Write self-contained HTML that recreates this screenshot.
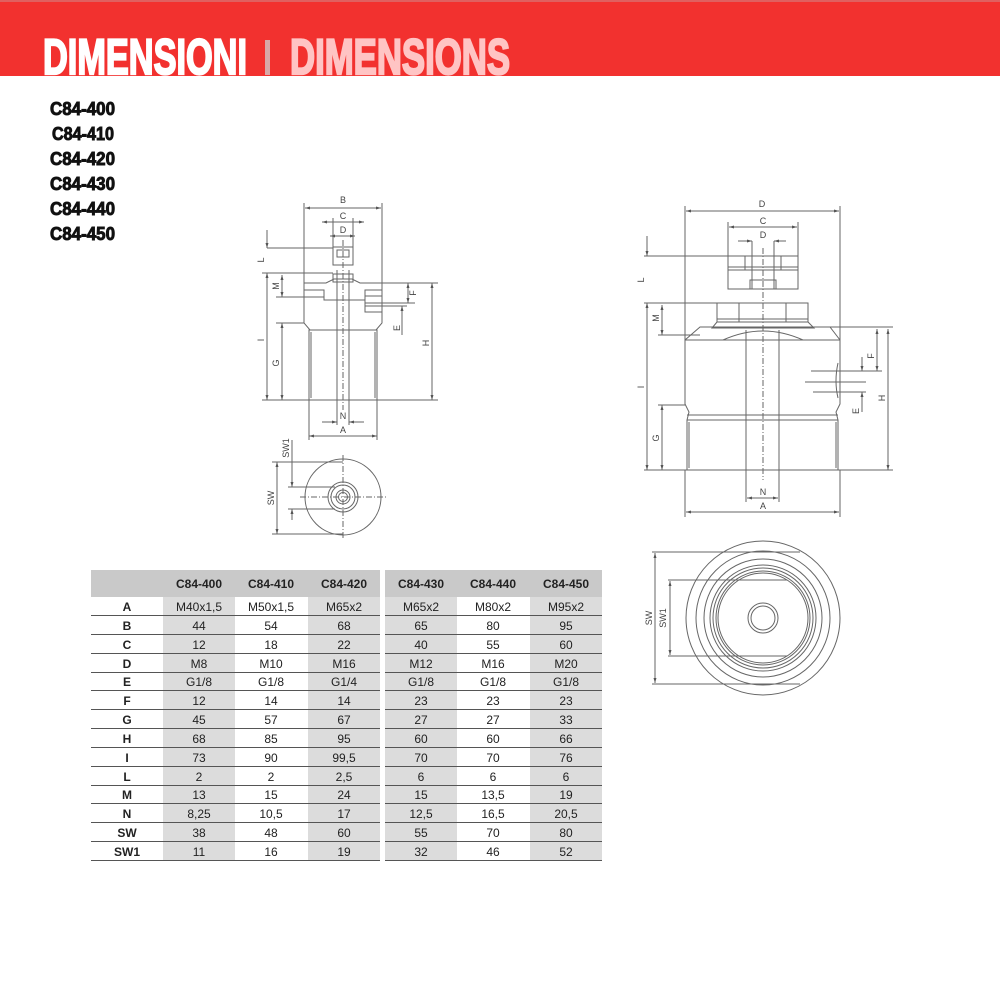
<!DOCTYPE html>
<html><head><meta charset="utf-8"><style>
html,body{margin:0;padding:0;background:#fff;width:1000px;height:1000px;overflow:hidden;font-family:"Liberation Sans",sans-serif}
svg{position:absolute;left:0;top:0}
</style></head><body>
<svg width="1000" height="1000" viewBox="0 0 1000 1000" xmlns="http://www.w3.org/2000/svg">
<defs>
<marker id="a" viewBox="0 0 10 10" refX="10" refY="5" markerWidth="5" markerHeight="5" orient="auto-start-reverse"><path d="M0,2 L10,5 L0,8z" fill="#555"/></marker>
</defs>
<!-- header -->
<rect x="0" y="0" width="1000" height="76" fill="#f2312f"/>
<rect x="0" y="0" width="1000" height="2" fill="#e06060"/>
<text x="43" y="74" font-family="Liberation Sans Narrow, Liberation Sans" font-weight="bold" font-size="50" fill="#fff" stroke="#fff" stroke-width="2.2" textLength="204" lengthAdjust="spacingAndGlyphs">DIMENSIONI</text>
<rect x="265" y="40" width="5" height="35" fill="#d8a8a8"/>
<text x="290" y="74" font-family="Liberation Sans Narrow, Liberation Sans" font-weight="bold" font-size="50" fill="#ffc4c4" stroke="#ffc4c4" stroke-width="2.2" textLength="220" lengthAdjust="spacingAndGlyphs">DIMENSIONS</text>
<!-- model list -->
<g font-family="Liberation Sans Narrow, Liberation Sans" font-weight="bold" font-size="18" fill="#111" stroke="#111" stroke-width="0.9">
<text x="50" y="115" textLength="65" lengthAdjust="spacingAndGlyphs">C84-400</text>
<text x="52" y="140" textLength="62" lengthAdjust="spacingAndGlyphs">C84-410</text>
<text x="50" y="165" textLength="65" lengthAdjust="spacingAndGlyphs">C84-420</text>
<text x="50" y="190" textLength="65" lengthAdjust="spacingAndGlyphs">C84-430</text>
<text x="50" y="215" textLength="65" lengthAdjust="spacingAndGlyphs">C84-440</text>
<text x="50" y="240" textLength="65" lengthAdjust="spacingAndGlyphs">C84-450</text>
</g>

<!-- LEFT DRAWING -->
<g stroke="#666" stroke-width="1" fill="none">
<line x1="304" y1="203" x2="304" y2="323"/><line x1="382" y1="203" x2="382" y2="283"/>
<line x1="305" y1="208" x2="381" y2="208" marker-start="url(#a)" marker-end="url(#a)"/>
<line x1="322" y1="222" x2="364" y2="222" marker-start="url(#a)" marker-end="url(#a)"/>
<line x1="330" y1="236" x2="355" y2="236" marker-start="url(#a)" marker-end="url(#a)"/>
<line x1="333" y1="218" x2="333" y2="265"/><line x1="353" y1="218" x2="353" y2="265"/>
<rect x="333" y="247" width="20" height="18"/>
<rect x="337" y="250" width="12" height="7"/>
<line x1="267" y1="248" x2="333" y2="248"/>
<rect x="333" y="274" width="20" height="8"/>
<path d="M304,283 L326,283 L334,279 L352,279 L360,283 L382,283 L382,323 L376,330 L310,330 L304,323 Z"/>
<path d="M304,290 L324,290 L324,300 L365,300 L365,290 L382,290"/>
<rect x="365" y="296" width="17" height="16"/>
<rect x="309" y="330" width="68" height="70"/>
<line x1="311" y1="332" x2="311" y2="398"/><line x1="375" y1="332" x2="375" y2="398"/>
<line x1="337" y1="270" x2="337" y2="425"/><line x1="349" y1="270" x2="349" y2="425"/>
<line x1="343" y1="240" x2="343" y2="410" stroke-dasharray="6,2,1,2"/>
<line x1="262" y1="273" x2="333" y2="273"/>
<line x1="276" y1="297" x2="324" y2="297"/>
<line x1="262" y1="400" x2="309" y2="400"/><line x1="276" y1="323" x2="304" y2="323"/>
<line x1="267" y1="230" x2="267" y2="248" marker-end="url(#a)"/>
<line x1="267" y1="273" x2="267" y2="400" marker-start="url(#a)" marker-end="url(#a)"/>
<line x1="282" y1="275" x2="282" y2="297" marker-start="url(#a)" marker-end="url(#a)"/>
<line x1="282" y1="323" x2="282" y2="400" marker-start="url(#a)" marker-end="url(#a)"/>
<line x1="382" y1="283" x2="438" y2="283"/><line x1="377" y1="400" x2="438" y2="400"/>
<line x1="365" y1="303" x2="415" y2="303"/><line x1="365" y1="306" x2="407" y2="306"/>
<line x1="408" y1="283" x2="408" y2="303" marker-start="url(#a)" marker-end="url(#a)"/>
<line x1="402" y1="306" x2="402" y2="335" marker-start="url(#a)"/>
<line x1="432" y1="283" x2="432" y2="400" marker-start="url(#a)" marker-end="url(#a)"/>
<line x1="309" y1="400" x2="309" y2="440"/><line x1="377" y1="400" x2="377" y2="440"/>
<line x1="322" y1="422" x2="337" y2="422" marker-end="url(#a)"/><line x1="364" y1="422" x2="349" y2="422" marker-end="url(#a)"/>
<line x1="309" y1="436" x2="377" y2="436" marker-start="url(#a)" marker-end="url(#a)"/>
<!-- bottom view -->
<circle cx="343" cy="497" r="38"/>
<circle cx="343" cy="497" r="15"/><circle cx="343" cy="497" r="12"/><circle cx="343" cy="497" r="7"/><circle cx="343" cy="497" r="4.5"/>
<line x1="343" y1="455" x2="343" y2="540" stroke-dasharray="6,2,1,2"/>
<line x1="300" y1="497" x2="388" y2="497" stroke-dasharray="6,2,1,2"/>
<line x1="272" y1="462" x2="343" y2="462"/><line x1="272" y1="534" x2="343" y2="534"/>
<line x1="288" y1="487" x2="335" y2="487"/><line x1="288" y1="509" x2="335" y2="509"/>
<line x1="277" y1="462" x2="277" y2="534" marker-start="url(#a)" marker-end="url(#a)"/>
<line x1="292" y1="440" x2="292" y2="487" marker-end="url(#a)"/>
<line x1="292" y1="520" x2="292" y2="509" marker-end="url(#a)"/>
</g>
<g font-size="9" fill="#444" text-anchor="middle">
<text x="343" y="203">B</text><text x="343" y="219">C</text><text x="343" y="233">D</text>
<text x="343" y="419">N</text><text x="343" y="433">A</text>
<text transform="translate(264,260) rotate(-90)">L</text>
<text transform="translate(279,286) rotate(-90)">M</text>
<text transform="translate(264,340) rotate(-90)">I</text>
<text transform="translate(279,363) rotate(-90)">G</text>
<text transform="translate(416,293) rotate(-90)">F</text>
<text transform="translate(400,328) rotate(-90)">E</text>
<text transform="translate(429,343) rotate(-90)">H</text>
<text transform="translate(274,498) rotate(-90)">SW</text>
<text transform="translate(289,448) rotate(-90)">SW1</text>
</g>

<!-- RIGHT DRAWING -->
<g stroke="#666" stroke-width="1" fill="none">
<line x1="685" y1="206" x2="685" y2="340"/><line x1="840" y1="206" x2="840" y2="340"/>
<line x1="686" y1="211" x2="839" y2="211" marker-start="url(#a)" marker-end="url(#a)"/>
<line x1="728" y1="222" x2="728" y2="256"/><line x1="798" y1="222" x2="798" y2="256"/>
<line x1="729" y1="227" x2="797" y2="227" marker-start="url(#a)" marker-end="url(#a)"/>
<line x1="738" y1="241" x2="752" y2="241" marker-end="url(#a)"/><line x1="786" y1="241" x2="774" y2="241" marker-end="url(#a)"/>
<rect x="728" y="256" width="70" height="33"/>
<line x1="728" y1="267" x2="798" y2="267"/><line x1="728" y1="270" x2="798" y2="270"/>
<line x1="745" y1="256" x2="745" y2="270"/><line x1="781" y1="256" x2="781" y2="270"/>
<line x1="752" y1="241" x2="752" y2="289"/><line x1="774" y1="241" x2="774" y2="289"/>
<path d="M750,289 L750,280 L776,280 L776,289"/>
<line x1="644" y1="256" x2="728" y2="256"/>
<path d="M717,303 L808,303 L808,322 L717,322 Z"/>
<line x1="739" y1="303" x2="739" y2="322"/><line x1="786" y1="303" x2="786" y2="322"/>
<line x1="717" y1="319" x2="808" y2="319"/>
<path d="M717,322 L712,328 L814,328 L808,322"/>
<path d="M700,327 L830,327 L840,340 L840,404 L836,412 L838,420 L838,470 L687,470 L687,420 L689,412 L685,404 L685,340 Z"/>
<line x1="685" y1="340" x2="840" y2="340"/>
<path d="M723,340 Q763,322 803,340"/>
<line x1="687" y1="415" x2="838" y2="415"/><line x1="687" y1="420" x2="838" y2="420"/>
<line x1="689" y1="422" x2="689" y2="468"/><line x1="836" y1="422" x2="836" y2="468"/>
<line x1="746" y1="330" x2="746" y2="502"/><line x1="779" y1="330" x2="779" y2="502"/>
<line x1="763" y1="248" x2="763" y2="480" stroke-dasharray="6,2,1,2"/>
<line x1="644" y1="303" x2="717" y2="303"/><line x1="658" y1="335" x2="700" y2="335"/>
<line x1="644" y1="470" x2="687" y2="470"/><line x1="658" y1="405" x2="685" y2="405"/>
<line x1="647" y1="236" x2="647" y2="256" marker-end="url(#a)"/>
<line x1="647" y1="303" x2="647" y2="470" marker-start="url(#a)" marker-end="url(#a)"/>
<line x1="662" y1="305" x2="662" y2="335" marker-start="url(#a)" marker-end="url(#a)"/>
<line x1="662" y1="405" x2="662" y2="470" marker-start="url(#a)" marker-end="url(#a)"/>
<line x1="830" y1="327" x2="893" y2="327"/><line x1="838" y1="470" x2="893" y2="470"/>
<line x1="811" y1="371" x2="882" y2="371"/><line x1="805" y1="382" x2="866" y2="382"/><line x1="813" y1="392" x2="866" y2="392"/>
<path d="M838,363 Q834,381 838,398"/>
<line x1="877" y1="329" x2="877" y2="371" marker-start="url(#a)" marker-end="url(#a)"/>
<line x1="862" y1="357" x2="862" y2="371" marker-end="url(#a)"/>
<line x1="862" y1="412" x2="862" y2="392" marker-end="url(#a)"/>
<line x1="888" y1="329" x2="888" y2="470" marker-start="url(#a)" marker-end="url(#a)"/>
<line x1="685" y1="470" x2="685" y2="517"/><line x1="840" y1="470" x2="840" y2="517"/>
<line x1="747" y1="498" x2="778" y2="498" marker-start="url(#a)" marker-end="url(#a)"/>
<line x1="686" y1="512" x2="839" y2="512" marker-start="url(#a)" marker-end="url(#a)"/>
<!-- bottom right view -->
<circle cx="763" cy="618" r="77"/>
<circle cx="763" cy="618" r="67"/><circle cx="763" cy="618" r="59"/>
<circle cx="763" cy="618" r="53"/><circle cx="763" cy="618" r="50"/><circle cx="763" cy="618" r="47"/><circle cx="763" cy="618" r="45"/>
<circle cx="763" cy="618" r="15"/><circle cx="763" cy="618" r="12"/>
<line x1="652" y1="552" x2="800" y2="552"/><line x1="652" y1="684" x2="800" y2="684"/>
<line x1="668" y1="580" x2="787" y2="580"/><line x1="668" y1="656" x2="787" y2="656"/>
<line x1="655" y1="553" x2="655" y2="683" marker-start="url(#a)" marker-end="url(#a)"/>
<line x1="670" y1="581" x2="670" y2="655" marker-start="url(#a)" marker-end="url(#a)"/>
</g>
<g font-size="9" fill="#444" text-anchor="middle">
<text x="762" y="207">D</text><text x="763" y="224">C</text><text x="763" y="238">D</text>
<text x="763" y="495">N</text><text x="763" y="509">A</text>
<text transform="translate(644,280) rotate(-90)">L</text>
<text transform="translate(659,318) rotate(-90)">M</text>
<text transform="translate(644,387) rotate(-90)">I</text>
<text transform="translate(659,438) rotate(-90)">G</text>
<text transform="translate(874,356) rotate(-90)">F</text>
<text transform="translate(859,411) rotate(-90)">E</text>
<text transform="translate(885,398) rotate(-90)">H</text>
<text transform="translate(652,618) rotate(-90)">SW</text>
<text transform="translate(666,618) rotate(-90)">SW1</text>
</g>

<!-- TABLE -->
<g>
<rect x="91" y="570" width="289" height="27" fill="#c9c9c9"/>
<rect x="385" y="570" width="217" height="27" fill="#c9c9c9"/>
<rect x="163" y="597" width="72" height="263" fill="#dcdcdc"/>
<rect x="308" y="597" width="72" height="263" fill="#dcdcdc"/>
<rect x="385" y="597" width="72" height="263" fill="#dcdcdc"/>
<rect x="530" y="597" width="72" height="263" fill="#dcdcdc"/>
<g stroke="#555" stroke-width="1">
<line x1="91" y1="615.5" x2="380" y2="615.5"/><line x1="385" y1="615.5" x2="602" y2="615.5"/>
<line x1="91" y1="634.5" x2="380" y2="634.5"/><line x1="385" y1="634.5" x2="602" y2="634.5"/>
<line x1="91" y1="653.5" x2="380" y2="653.5"/><line x1="385" y1="653.5" x2="602" y2="653.5"/>
<line x1="91" y1="672.5" x2="380" y2="672.5"/><line x1="385" y1="672.5" x2="602" y2="672.5"/>
<line x1="91" y1="690.5" x2="380" y2="690.5"/><line x1="385" y1="690.5" x2="602" y2="690.5"/>
<line x1="91" y1="709.5" x2="380" y2="709.5"/><line x1="385" y1="709.5" x2="602" y2="709.5"/>
<line x1="91" y1="728.5" x2="380" y2="728.5"/><line x1="385" y1="728.5" x2="602" y2="728.5"/>
<line x1="91" y1="747.5" x2="380" y2="747.5"/><line x1="385" y1="747.5" x2="602" y2="747.5"/>
<line x1="91" y1="766.5" x2="380" y2="766.5"/><line x1="385" y1="766.5" x2="602" y2="766.5"/>
<line x1="91" y1="785.5" x2="380" y2="785.5"/><line x1="385" y1="785.5" x2="602" y2="785.5"/>
<line x1="91" y1="803.5" x2="380" y2="803.5"/><line x1="385" y1="803.5" x2="602" y2="803.5"/>
<line x1="91" y1="822.5" x2="380" y2="822.5"/><line x1="385" y1="822.5" x2="602" y2="822.5"/>
<line x1="91" y1="841.5" x2="380" y2="841.5"/><line x1="385" y1="841.5" x2="602" y2="841.5"/>
<line x1="91" y1="860.5" x2="380" y2="860.5"/><line x1="385" y1="860.5" x2="602" y2="860.5"/>
</g>
<g font-family="Liberation Sans Narrow, Liberation Sans" font-size="12" fill="#222" text-anchor="middle">
<g font-weight="bold"><text x="199" y="588">C84-400</text><text x="271" y="588">C84-410</text><text x="344" y="588">C84-420</text><text x="421" y="588">C84-430</text><text x="493" y="588">C84-440</text><text x="566" y="588">C84-450</text>
<text x="127" y="611">A</text><text x="127" y="630">B</text><text x="127" y="649">C</text><text x="127" y="668">D</text><text x="127" y="686">E</text><text x="127" y="705">F</text><text x="127" y="724">G</text><text x="127" y="743">H</text><text x="127" y="762">I</text><text x="127" y="781">L</text><text x="127" y="799">M</text><text x="127" y="818">N</text><text x="127" y="837">SW</text><text x="127" y="856">SW1</text></g>
<text x="199" y="611">M40x1,5</text><text x="271" y="611">M50x1,5</text><text x="344" y="611">M65x2</text><text x="421" y="611">M65x2</text><text x="493" y="611">M80x2</text><text x="566" y="611">M95x2</text>
<text x="199" y="630">44</text><text x="271" y="630">54</text><text x="344" y="630">68</text><text x="421" y="630">65</text><text x="493" y="630">80</text><text x="566" y="630">95</text>
<text x="199" y="649">12</text><text x="271" y="649">18</text><text x="344" y="649">22</text><text x="421" y="649">40</text><text x="493" y="649">55</text><text x="566" y="649">60</text>
<text x="199" y="668">M8</text><text x="271" y="668">M10</text><text x="344" y="668">M16</text><text x="421" y="668">M12</text><text x="493" y="668">M16</text><text x="566" y="668">M20</text>
<text x="199" y="686">G1/8</text><text x="271" y="686">G1/8</text><text x="344" y="686">G1/4</text><text x="421" y="686">G1/8</text><text x="493" y="686">G1/8</text><text x="566" y="686">G1/8</text>
<text x="199" y="705">12</text><text x="271" y="705">14</text><text x="344" y="705">14</text><text x="421" y="705">23</text><text x="493" y="705">23</text><text x="566" y="705">23</text>
<text x="199" y="724">45</text><text x="271" y="724">57</text><text x="344" y="724">67</text><text x="421" y="724">27</text><text x="493" y="724">27</text><text x="566" y="724">33</text>
<text x="199" y="743">68</text><text x="271" y="743">85</text><text x="344" y="743">95</text><text x="421" y="743">60</text><text x="493" y="743">60</text><text x="566" y="743">66</text>
<text x="199" y="762">73</text><text x="271" y="762">90</text><text x="344" y="762">99,5</text><text x="421" y="762">70</text><text x="493" y="762">70</text><text x="566" y="762">76</text>
<text x="199" y="781">2</text><text x="271" y="781">2</text><text x="344" y="781">2,5</text><text x="421" y="781">6</text><text x="493" y="781">6</text><text x="566" y="781">6</text>
<text x="199" y="799">13</text><text x="271" y="799">15</text><text x="344" y="799">24</text><text x="421" y="799">15</text><text x="493" y="799">13,5</text><text x="566" y="799">19</text>
<text x="199" y="818">8,25</text><text x="271" y="818">10,5</text><text x="344" y="818">17</text><text x="421" y="818">12,5</text><text x="493" y="818">16,5</text><text x="566" y="818">20,5</text>
<text x="199" y="837">38</text><text x="271" y="837">48</text><text x="344" y="837">60</text><text x="421" y="837">55</text><text x="493" y="837">70</text><text x="566" y="837">80</text>
<text x="199" y="856">11</text><text x="271" y="856">16</text><text x="344" y="856">19</text><text x="421" y="856">32</text><text x="493" y="856">46</text><text x="566" y="856">52</text>
</g>
</g>
</svg>
</body></html>
